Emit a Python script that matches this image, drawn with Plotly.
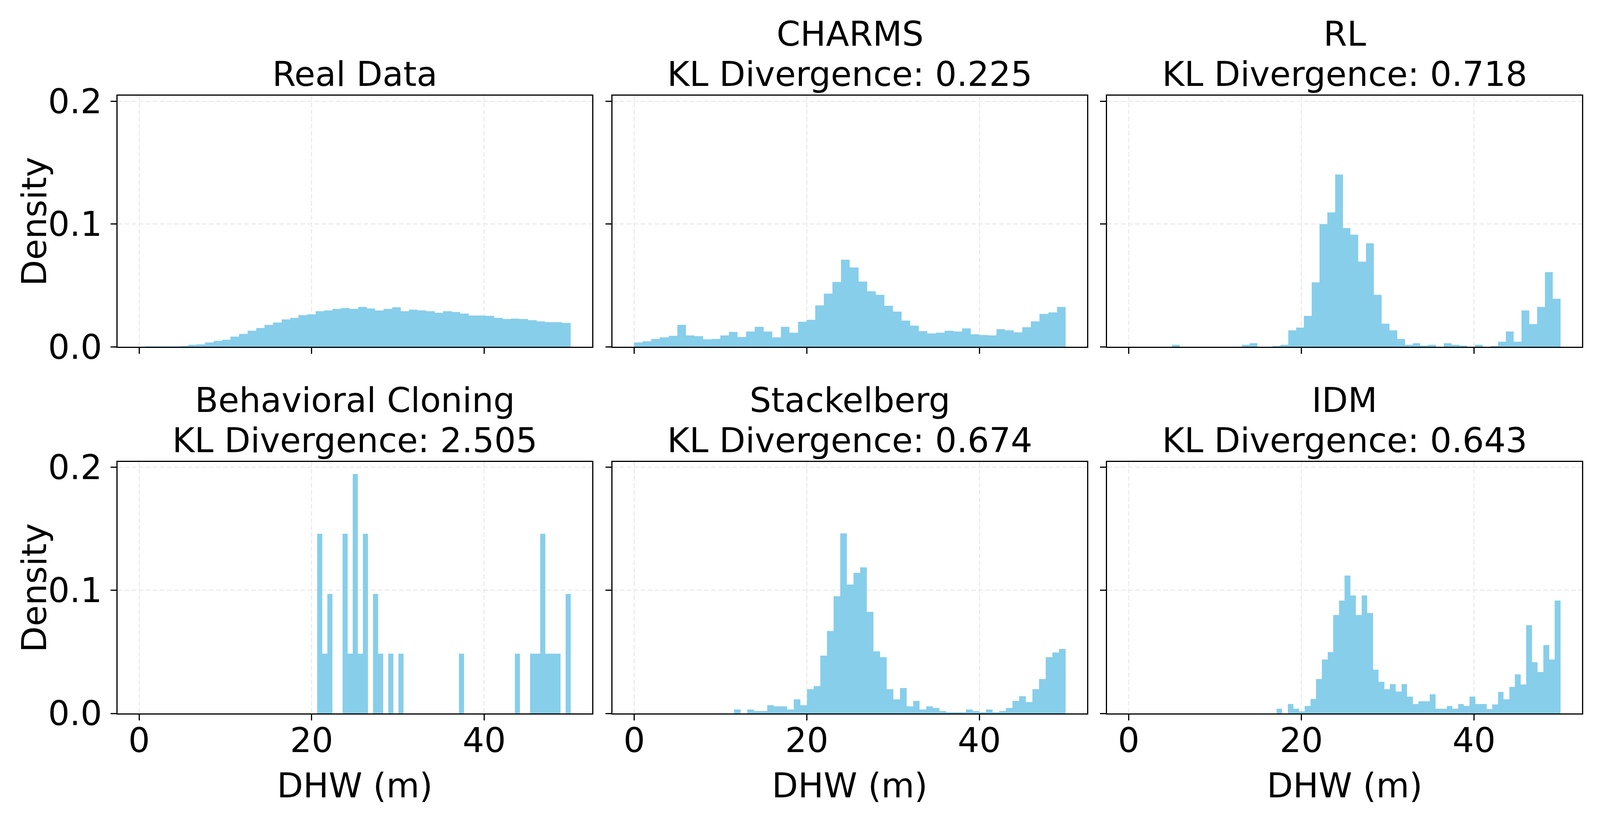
import numpy as np
import plotly.graph_objects as go
from plotly.subplots import make_subplots

panel_names = ["Real Data", "CHARMS", "RL", "Behavioral Cloning", "Stackelberg", "IDM"]
kl_values = [None, 0.225, 0.718, 2.505, 0.674, 0.643]

# histogram bin ranges of DHW (m), 50 bins each
bin_ranges = [(0.75, 50.0), (0.0, 50.0), (5.0, 50.0), (20.64, 50.0), (11.6, 50.0), (17.12, 50.0)]

real_density = [0.0001, 0.0001, 0.0002, 0.0003, 0.0006, 0.0016, 0.0018, 0.0036, 0.0048, 0.0059,
                0.0082, 0.0105, 0.0130, 0.0154, 0.0177, 0.0198, 0.0223, 0.0236, 0.0259, 0.0265,
                0.0290, 0.0297, 0.0309, 0.0316, 0.0309, 0.0326, 0.0312, 0.0297, 0.0309, 0.0322,
                0.0290, 0.0303, 0.0297, 0.0291, 0.0278, 0.0291, 0.0282, 0.0272, 0.0255, 0.0255,
                0.0251, 0.0236, 0.0227, 0.0230, 0.0225, 0.0215, 0.0208, 0.0200, 0.0202, 0.0195]
charms_density = [0.0036, 0.0044, 0.0063, 0.0076, 0.0089, 0.0179, 0.0091, 0.0086, 0.0061, 0.0063,
                  0.0093, 0.0120, 0.0080, 0.0125, 0.0162, 0.0125, 0.0076, 0.0163, 0.0114, 0.0205,
                  0.0220, 0.0337, 0.0433, 0.0527, 0.0709, 0.0644, 0.0530, 0.0452, 0.0424, 0.0333,
                  0.0285, 0.0213, 0.0173, 0.0127, 0.0108, 0.0114, 0.0129, 0.0125, 0.0150, 0.0101,
                  0.0097, 0.0093, 0.0144, 0.0133, 0.0118, 0.0160, 0.0207, 0.0268, 0.0279, 0.0323]
rl_density = [0.0017, 0.0, 0.0, 0.0, 0.0, 0.0, 0.0, 0.0, 0.0, 0.0017,
              0.0030, 0.0, 0.0, 0.0008, 0.0017, 0.0133, 0.0156, 0.0251, 0.0525, 0.0998,
              0.1093, 0.1401, 0.0968, 0.0914, 0.0694, 0.0842, 0.0422, 0.0188, 0.0135, 0.0063,
              0.0017, 0.0030, 0.0010, 0.0017, 0.0, 0.0030, 0.0017, 0.0010, 0.0, 0.0017,
              0.0, 0.0008, 0.0042, 0.0125, 0.0042, 0.0295, 0.0186, 0.0325, 0.0608, 0.0390]
bc_density = [0.1460, 0.0487, 0.0973, 0.0, 0.0, 0.1460, 0.0487, 0.1947, 0.0487, 0.1460,
              0.0, 0.0973, 0.0487, 0.0, 0.0487, 0.0, 0.0487, 0.0, 0.0, 0.0,
              0.0, 0.0, 0.0, 0.0, 0.0, 0.0, 0.0, 0.0, 0.0487, 0.0,
              0.0, 0.0, 0.0, 0.0, 0.0, 0.0, 0.0, 0.0, 0.0, 0.0487,
              0.0, 0.0, 0.0487, 0.0487, 0.1460, 0.0487, 0.0487, 0.0487, 0.0, 0.0973]
stackelberg_density = [0.0032, 0.0, 0.0032, 0.0019, 0.0019, 0.0067, 0.0058, 0.0058, 0.0032, 0.0114,
                       0.0067, 0.0196, 0.0222, 0.0470, 0.0671, 0.0954, 0.1462, 0.1048, 0.1142, 0.1187,
                       0.0825, 0.0506, 0.0458, 0.0196, 0.0114, 0.0207, 0.0058, 0.0101, 0.0032, 0.0058,
                       0.0045, 0.0019, 0.0009, 0.0009, 0.0009, 0.0032, 0.0019, 0.0009, 0.0032, 0.0009,
                       0.0019, 0.0045, 0.0101, 0.0139, 0.0093, 0.0196, 0.0281, 0.0458, 0.0495, 0.0525]
idm_density = [0.0039, 0.0, 0.0077, 0.0039, 0.0017, 0.0059, 0.0117, 0.0278, 0.0439, 0.0499,
               0.0799, 0.0919, 0.1122, 0.0959, 0.0799, 0.0959, 0.0817, 0.0357, 0.0257, 0.0196,
               0.0238, 0.0177, 0.0238, 0.0136, 0.0077, 0.0099, 0.0099, 0.0157, 0.0039, 0.0039,
               0.0059, 0.0039, 0.0077, 0.0059, 0.0136, 0.0077, 0.0077, 0.0036, 0.0074, 0.0175,
               0.0115, 0.0216, 0.0317, 0.0235, 0.0718, 0.0415, 0.0336, 0.0557, 0.0437, 0.0917]

densities = [real_density, charms_density, rl_density, bc_density, stackelberg_density, idm_density]

x_ticks = [0, 20, 40]
y_ticks = [0.0, 0.1, 0.2]

# reference canvas, used only to turn pixel measurements into paper fractions
W, H = 4500, 2100
FONT = "DejaVu Sans"
FS = 87
BAR_COLOR = "#87CEEB"
GRID = dict(showgrid=True, gridcolor="#ececec", gridwidth=3, griddash="12px,6px")
FRAME = dict(ticks="outside", ticklen=15, tickwidth=3.3, tickcolor="black",
             showline=True, linecolor="black", linewidth=3.3, mirror=True,
             zeroline=False, automargin=False)

fig = make_subplots(rows=2, cols=3)

for i, dens in enumerate(densities):
    lo, hi = bin_ranges[i]
    edges = np.linspace(lo, hi, len(dens) + 1)
    centers = (edges[:-1] + edges[1:]) / 2
    widths = np.diff(edges)
    fig.add_trace(go.Bar(x=centers, y=dens, width=widths, marker=dict(color=BAR_COLOR, line=dict(width=0)),
                         showlegend=False), row=i // 3 + 1, col=i % 3 + 1)

# panel placement in reference pixels (left, right) and (top, bottom)
col_px = [(323, 1663), (1721, 3061), (3117, 4458)]
row_px = [(239, 887), (1184, 1833)]

def px_x(p):
    return p / W

def px_y(p):
    return 1 - p / H

y_top = max(max(d) for d in densities) * 1.05

annotations = []
for i in range(6):
    r, c = i // 3, i % 3
    ax = "" if i == 0 else str(i + 1)
    left, right = col_px[c]
    top, bottom = row_px[r]
    fig.layout["xaxis" + ax].update(
        domain=[px_x(left), px_x(right)], range=[-2.5, 52.5],
        tickvals=x_ticks, showticklabels=(r == 1), ticklabelstandoff=-24,
        tickfont=dict(family=FONT, size=FS, color="black"), **FRAME, **GRID,
    )
    fig.layout["yaxis" + ax].update(
        domain=[px_y(bottom), px_y(top)], range=[0, y_top],
        tickvals=y_ticks, tickformat=".1f", showticklabels=(c == 0), ticklabelstandoff=4,
        tickfont=dict(family=FONT, size=FS, color="black"), **FRAME, **GRID,
    )

    cx = px_x((left + right) / 2)
    if kl_values[i] is None:
        lines = [panel_names[i]]
    else:
        lines = [panel_names[i], "KL Divergence: %.3f" % kl_values[i]]
    for k, txt in enumerate(reversed(lines)):
        annotations.append(dict(
            text=txt, x=cx, y=px_y(top - 2 - 104 * k), xref="paper", yref="paper",
            xanchor="center", yanchor="bottom", showarrow=False,
            font=dict(family=FONT, size=FS, color="black"),
        ))

    if c == 0:
        annotations.append(dict(
            text="Density", x=px_x(88), y=px_y((top + bottom) / 2), xref="paper", yref="paper",
            xanchor="center", yanchor="middle", textangle=-90, showarrow=False,
            font=dict(family=FONT, size=FS, color="black"),
        ))
    if r == 1:
        annotations.append(dict(
            text="DHW (m)", x=cx, y=px_y(2019), xref="paper", yref="paper",
            xanchor="center", yanchor="middle", showarrow=False,
            font=dict(family=FONT, size=FS, color="black"),
        ))

fig.update_layout(
    autosize=True,
    margin=dict(l=0, r=0, t=0, b=0),
    paper_bgcolor="white", plot_bgcolor="white",
    bargap=0, barmode="overlay",
    annotations=annotations,
    font=dict(family=FONT, size=FS, color="black"),
)

fig.write_html("out.html")
